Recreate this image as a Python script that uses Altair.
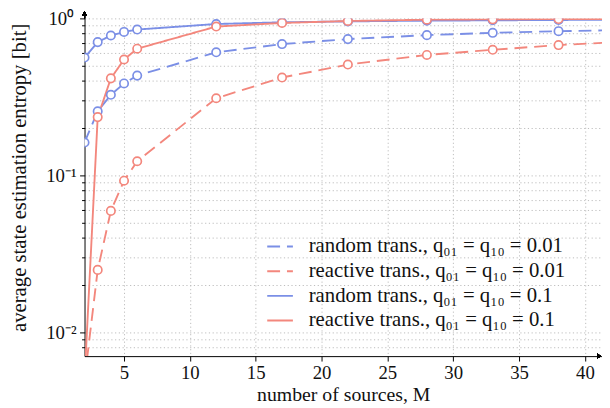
import altair as alt
import pandas as pd

# ---- data ----
M = [2, 3, 4, 5, 6, 12, 17, 22, 28, 33, 38, 43]
rand_001 = [0.162, 0.256, 0.326, 0.385, 0.432, 0.608, 0.686, 0.738, 0.782, 0.809, 0.829, 0.843]
react_001 = [0.005, 0.025, 0.0594, 0.0925, 0.123, 0.31, 0.42, 0.508, 0.585, 0.631, 0.676, 0.71]
rand_01 = [0.563, 0.706, 0.778, 0.82, 0.849, 0.921, 0.944, 0.957, 0.967, 0.972, 0.977, 0.98]
react_01 = [0.005, 0.235, 0.415, 0.547, 0.641, 0.887, 0.935, 0.962, 0.981, 0.986, 0.99, 0.992]

series_names = [
    "random trans., q₀₁ = q₁₀ = 0.01",
    "reactive trans., q₀₁ = q₁₀ = 0.01",
    "random trans., q₀₁ = q₁₀ = 0.1",
    "reactive trans., q₀₁ = q₁₀ = 0.1",
]
series_values = [rand_001, react_001, rand_01, react_01]
series_colors = ["#7b8fe6", "#f3877d", "#7b8fe6", "#f3877d"]
series_dashes = [[13, 7], [13, 7], [1, 0], [1, 0]]

y_major = [0.01, 0.1, 1.0]
y_ticks = [0.008, 0.009, 0.01, 0.02, 0.03, 0.04, 0.05, 0.06, 0.07, 0.08, 0.09,
           0.1, 0.2, 0.3, 0.4, 0.5, 0.6, 0.7, 0.8, 0.9, 1.0]
x_ticks = [5, 10, 15, 20, 25, 30, 35, 40]

rows = []
for name, vals in zip(series_names, series_values):
    for m, v in zip(M, vals):
        rows.append({"M": m, "H": v, "series": name})
df = pd.DataFrame(rows)

FONT = "Liberation Serif"
W, H = 524, 342

color_scale = alt.Scale(domain=series_names, range=series_colors)
dash_scale = alt.Scale(domain=series_names, range=series_dashes)

x_enc = alt.X(
    "M:Q",
    scale=alt.Scale(domain=[2, 41.3], nice=False, zero=False),
    axis=alt.Axis(
        values=x_ticks, grid=True, title="number of sources, M",
        tickSize=5, labelPadding=3, titleX=262, titleY=45,
        titleBaseline="alphabetic", titleAnchor="middle",
    ),
)
y_enc = alt.Y(
    "H:Q",
    scale=alt.Scale(type="log", domain=[0.00706, 1.0], nice=False),
    axis=alt.Axis(
        values=y_ticks, grid=True,
        title="average state estimation entropy [bit]",
        labelExpr="datum.value == 1 ? '10⁰' : datum.value == 0.1 ? '10⁻¹' : datum.value == 0.01 ? '10⁻²' : ''",
        tickSize={"condition": {"test": "datum.value == 1 || datum.value == 0.1 || datum.value == 0.01", "value": 5}, "value": 3},
        labelAlign="center", labelPadding=19,
        titleX=-65.5, titleY=161, titleBaseline="middle", titleAnchor="middle",
        titleFontSize=21,
    ),
)

legend = alt.Legend(
    title=None, orient="none", legendX=184, legendY=217,
    symbolType="stroke", symbolSize=676, symbolStrokeWidth=2,
    labelFont=FONT, labelFontSize=21, labelLimit=400, rowPadding=1,
    labelOffset=15, labelColor="#111",
)

lines = alt.Chart(df).mark_line(clip=True, strokeWidth=1.9).encode(
    x=x_enc, y=y_enc,
    color=alt.Color("series:N", scale=color_scale, legend=legend),
    strokeDash=alt.StrokeDash("series:N", scale=dash_scale, legend=legend),
    detail="series:N",
)

points = alt.Chart(df).mark_point(
    clip=True, shape="circle", size=72, strokeWidth=1.7, fill="white", opacity=1, fillOpacity=1
).encode(
    x=alt.X("M:Q"), y=alt.Y("H:Q"),
    color=alt.Color("series:N", scale=color_scale, legend=legend),
)

# axis arrowheads
arrow_up_line = alt.Chart(df).mark_rule(color="black", strokeWidth=1).encode(
    x=alt.value(0), y=alt.value(-6), y2=alt.value(0)
)
arrow_up = alt.Chart(df).mark_point(shape="triangle-up", filled=True, color="black", size=22, opacity=1).encode(
    x=alt.value(0), y=alt.value(-5)
)
arrow_right = alt.Chart(df).mark_point(shape="triangle-right", filled=True, color="black", size=22, opacity=1).encode(
    x=alt.value(W - 3), y=alt.value(H)
)

chart = alt.layer(lines, points, arrow_up_line, arrow_up, arrow_right).properties(
    width=W, height=H,
    autosize=alt.AutoSizeParams(type="none"),
    padding={"left": 77.5, "top": 8, "right": 0, "bottom": 48},
).configure_view(stroke=None).configure_axis(
    labelFont=FONT, titleFont=FONT, labelFontSize=19, titleFontSize=20,
    titleFontWeight="normal", labelColor="#111", titleColor="#111",
    domainColor="black", domainWidth=1, tickColor="black", tickWidth=1,
    gridColor="#bdbdbd", gridDash=[1.2, 2.6], gridWidth=1, gridOpacity=1,
).configure_legend(labelFont=FONT)

chart.save("out.html", embed_options={"renderer": "svg", "actions": False})
